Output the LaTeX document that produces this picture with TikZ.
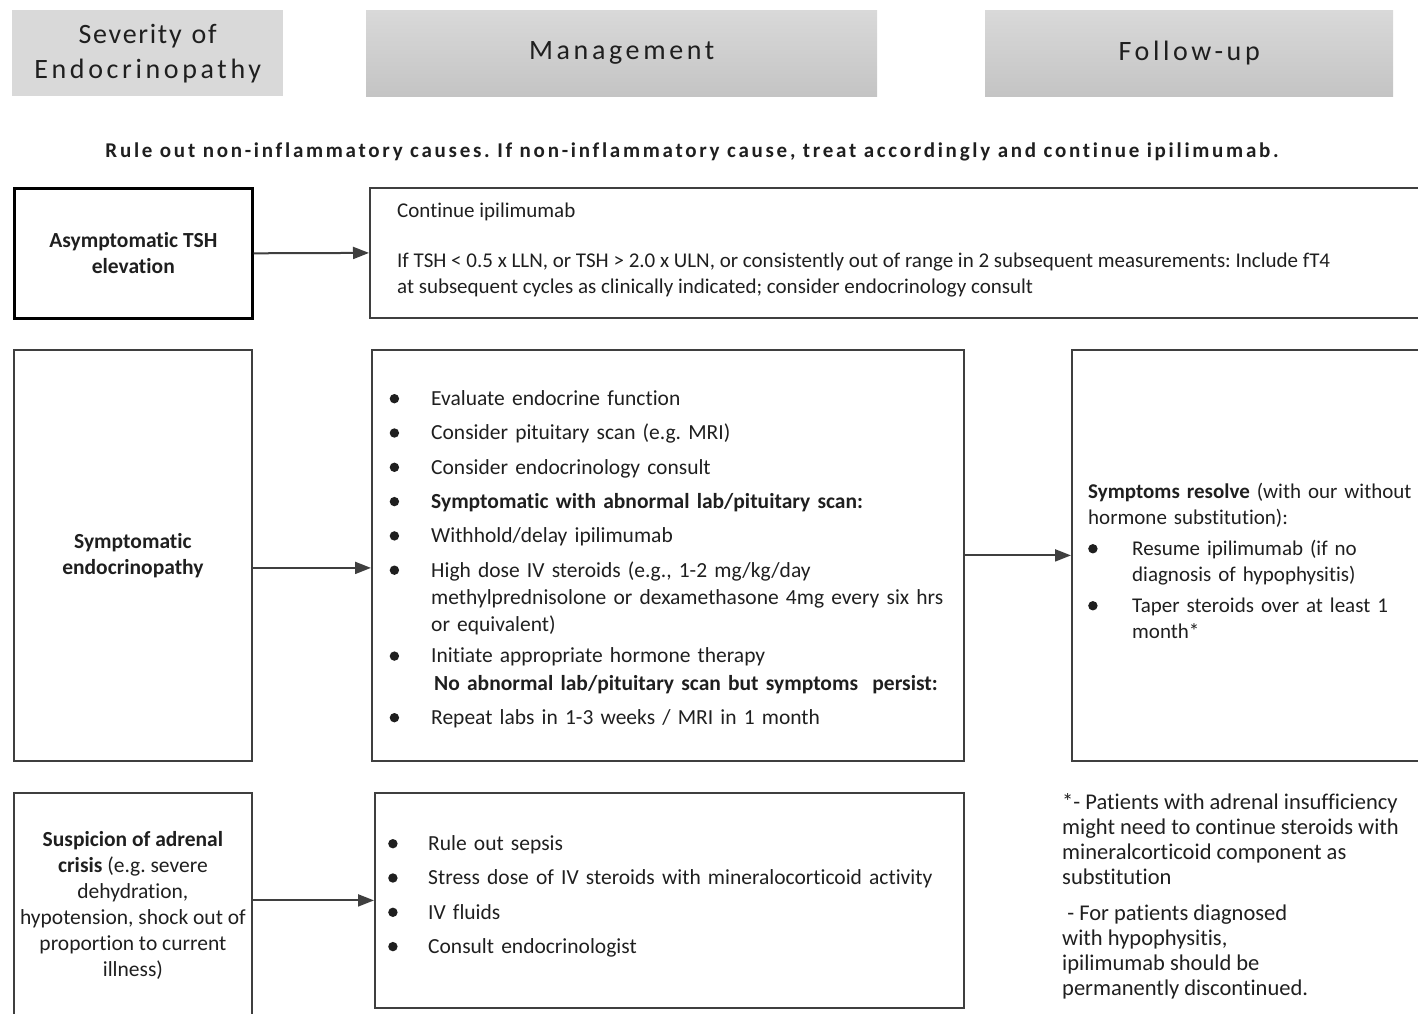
\documentclass[tikz,border=0pt]{standalone}
\usepackage{fontspec}
\setmainfont{Carlito}[Ligatures=NoCommon]
\usetikzlibrary{arrows.meta}
\definecolor{ink}{HTML}{1F1F1F}
\definecolor{edge}{HTML}{3F3F3F}
\definecolor{hdrflat}{HTML}{D9D9D9}
\definecolor{hdrtop}{HTML}{D9D9D9}
\definecolor{hdrbot}{HTML}{C4C4C4}
\frenchspacing
\newcommand\bodyfont{\fontsize{21.5}{26}\selectfont}
% round list marker, 9.4pt across
\newcommand\dotmark{\tikz[baseline=0pt]\fill[ink] (4.7pt,6.8pt) circle (4.7pt);}
% bullet item: marker column of width #1, then a ragged-right block;
% the block ends on a strut so the next line keeps the normal baseline distance
\newcommand\bul[2][40pt]{\par\noindent\makebox[#1][l]{\dotmark}%
  \parbox[t]{\dimexpr\linewidth-#1\relax}{\raggedright #2\strut}\par\prevdepth=\dp\strutbox}

\begin{document}
\begin{tikzpicture}[x=1pt,y=-1pt,
  hdr/.style={rectangle, inner sep=0pt, anchor=north west, minimum height=86pt},
  hdrtext/.style={inner sep=0pt, text=ink, align=center,
    font={\fontsize{28}{35}\selectfont\addfontfeature{LetterSpace=13}}},
  frame/.style={draw=edge, line width=1.8pt, rectangle, inner sep=0pt, anchor=north west},
  strongframe/.style={frame, draw=black, line width=2.6pt},
  txt/.style={inner sep=0pt, text=ink, font=\bodyfont},
  link/.style={draw=edge, line width=2pt, -{Triangle[length=16pt,width=12pt]}},
]
\useasboundingbox (0,0) rectangle (1418,1014);
\clip (0,0) rectangle (1418,1014);

% column headers
\node[hdr, fill=hdrflat, minimum width=271pt] (h1) at (12,10) {};
\node[hdr, top color=hdrtop, bottom color=hdrbot, minimum width=511pt] (h2) at (366,10) {};
\node[hdr, top color=hdrtop, bottom color=hdrbot, minimum width=408pt] (h3) at (985,10) {};
\node[hdrtext] (h1t) at (h1.center)
  {{\addfontfeature{LetterSpace=6}Severity\ \hspace{2pt}of}\\Endocrinopathy};
\node[hdrtext] (h2t) at (h2.center) {Management};
\node[hdrtext] (h3t) at (h3.center) {Follow-up};

% general instruction
\node[txt, font={\fontsize{21}{24}\selectfont\bfseries\addfontfeature{LetterSpace=13}}] (rule) at (692,152)
  {Rule out non-inflammatory causes. If non-inflammatory cause, treat accordingly and continue ipilimumab.};

% boxes
\node[strongframe, minimum width=238pt, minimum height=130pt] (l1) at (13,187) {};
\node[frame, minimum width=1080pt, minimum height=130pt] (r1) at (369,187) {};
\node[frame, minimum width=238pt, minimum height=411pt] (l2) at (13,349) {};
\node[frame, minimum width=592pt, minimum height=411pt] (m2) at (371,349) {};
\node[frame, minimum width=380pt, minimum height=411pt] (f2) at (1071,349) {};
\node[frame, minimum width=238pt, minimum height=240pt] (l3) at (13,792) {};
\node[frame, minimum width=589pt, minimum height=215pt] (m3) at (374,792) {};

% severity texts
\node[txt, align=center, font=\bodyfont\bfseries] (l1t) at (l1.center) {Asymptomatic TSH\\elevation};
\node[txt, align=center, font=\bodyfont\bfseries] (l2t) at (l2.center) {Symptomatic\\endocrinopathy};
\node[txt, align=center] (l3t) at ([yshift=7pt]l3.center)
  {\textbf{Suspicion of adrenal}\\\textbf{crisis} (e.g. severe\\dehydration,\\hypotension, shock out of\\proportion to current\\illness)};

% management texts
\node[txt, anchor=north west, align=left, font={\fontsize{21}{26}\selectfont}] (r1t)
  at ([xshift=28pt,yshift=-16pt]r1.north west)
  {Continue ipilimumab\\[24pt]If TSH < 0.5 x LLN, or TSH > 2.0 x ULN, or consistently out of range in 2 subsequent measurements: Include fT4\\at subsequent cycles as clinically indicated; consider endocrinology consult};

\node[txt, anchor=north west, text width=570pt, font={\fontsize{21.5}{27.3}\selectfont}] (m2t)
  at ([xshift=18.5pt,yshift=-22pt]m2.north west)
  {\setlength{\parskip}{7pt}%
   \bul[41.5pt]{Evaluate endocrine function}
   \bul[41.5pt]{Consider pituitary scan (e.g. MRI)}
   \bul[41.5pt]{Consider endocrinology consult}
   \bul[41.5pt]{\textbf{Symptomatic with abnormal lab/pituitary scan:}}
   \bul[41.5pt]{Withhold/delay ipilimumab}
   \bul[41.5pt]{High dose IV steroids (e.g., 1-2 mg/kg/day\\methylprednisolone or dexamethasone 4mg every six hrs\\or equivalent)}
   \vspace{-3pt}%
   \bul[41.5pt]{Initiate appropriate hormone therapy}
   \vspace{-7pt}\noindent\hspace{44.5pt}\textbf{No abnormal lab/pituitary scan but symptoms\ \ persist:}
   \bul[41.5pt]{Repeat labs in 1-3 weeks / MRI in 1 month}};

\node[txt, anchor=north west, text width=570pt, font={\fontsize{21.5}{27.3}\selectfont}] (m3t)
  at ([xshift=14pt,yshift=-24pt]m3.north west)
  {\setlength{\parskip}{7pt}%
   \bul[40pt]{Rule out sepsis}
   \bul[40pt]{Stress dose of IV steroids with mineralocorticoid activity}
   \bul[40pt]{IV fluids}
   \bul[40pt]{Consult endocrinologist}};

% follow-up texts
\node[txt, anchor=north west, text width=340pt, font={\fontsize{21}{26}\selectfont}] (f2t)
  at ([xshift=17pt,yshift=-134pt]f2.north west)
  {\setlength{\parskip}{5pt}%
   \noindent\textbf{Symptoms resolve} (with our without\\hormone substitution):
   \bul[44pt]{Resume ipilimumab (if no\\diagnosis of hypophysitis)}
   \bul[44pt]{Taper steroids over at least 1\\month*}};

\node[txt, anchor=north west, align=left, font={\fontsize{22.5}{25}\selectfont}] (note) at (1062,793)
  {*- Patients with adrenal insufficiency\\might need to continue steroids with\\mineralcorticoid component as\\substitution\\[11pt]\ - For patients diagnosed\\with hypophysitis,\\ipilimumab should be\\permanently discontinued.};

% connectors
\coordinate (a2) at ([yshift=-12.5pt]l2.east);
\draw[link] (l1.east) -- (r1.west);
\draw[link] (a2) -- (a2 -| m2.west);
\draw[link] (m2.east) -- (f2.west);
\draw[link] (l3.east |- m3.west) -- (m3.west);
\end{tikzpicture}
\end{document}
